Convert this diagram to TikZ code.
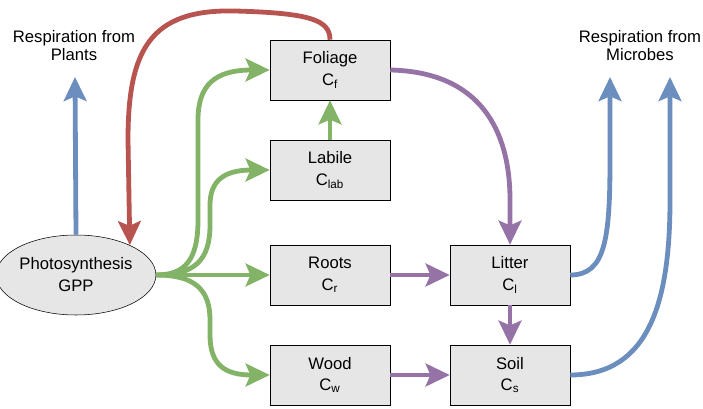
\documentclass[tikz,border=0pt]{standalone}
\usepackage{fontspec}
\setmainfont{Liberation Sans}
\usetikzlibrary{arrows.meta,shapes.geometric}
\tikzset{>={Stealth[inset=3.5pt,length=18pt,width=17pt]}}
\definecolor{resblue}{HTML}{6C8EBF}
\definecolor{allocgreen}{HTML}{82B366}
\definecolor{fallred}{HTML}{B85450}
\definecolor{decpurple}{HTML}{9673A6}
\definecolor{poolgray}{HTML}{E6E6E6}
\tikzset{
  pool/.style={draw, fill=poolgray, minimum width=90pt, minimum height=45pt,
    inner sep=0pt, align=center, font=\fontsize{12.5}{16}\selectfont},
  flux/.style={->, line width=3.6pt},
  lbl/.style={align=center, font=\fontsize{12.5}{13.5}\selectfont}
}
\begin{document}
\begin{tikzpicture}[x=0.75pt, y=-0.75pt]

  \useasboundingbox (0,0) rectangle (703,409);

  %% pools
  \node[pool] (fol) at (330,70) {Foliage\\C\textsubscript{f}};
  \node[pool] (lab) at (330,170) {Labile\\C\textsubscript{lab}};
  \node[pool] (roo) at (330,275) {Roots\\C\textsubscript{r}};
  \node[pool] (woo) at (330,375) {Wood\\C\textsubscript{w}};
  \node[pool] (lit) at (510,275) {Litter\\C\textsubscript{l}};
  \node[pool] (soi) at (510,375) {Soil\\C\textsubscript{s}};

  \node[ellipse, draw, fill=poolgray, minimum width=112.5pt, minimum height=60pt,
    inner sep=0pt, align=center, font=\fontsize{12.5}{16.5}\selectfont]
    (gpp) at (76,275) {Photosynthesis\\GPP};

  \node[lbl] (rplant) at (74,46) {Respiration from\\Plants};
  \node[lbl] (rmicro) at (640,46) {Respiration from\\Microbes};

  \coordinate (rp) at (75,77);
  \coordinate (rl) at (610,77);
  \coordinate (rs) at (670,77);

  %% respiration
  \draw[flux, resblue] (gpp.north) -- (rp);
  \draw[flux, resblue] (lit.east) .. controls (605,275) and (610,240) .. (610,160) -- (rl);
  \draw[flux, resblue] (soi.east) .. controls (650,375) and (670,300) .. (670,200) -- (rs);

  %% foliage -> gpp
  \draw[flux, fallred] (fol.north) .. controls (330,20) and (310,13) .. (235,11)
    .. controls (150,9) and (128,50) .. (128,140) -- (gpp.29);

  %% gpp -> pools
  \draw[flux, allocgreen] (gpp.east) .. controls (185,275) and (198,260) .. (198,220)
    -- (198,120) .. controls (198,85) and (215,70) .. (fol.west);
  \draw[flux, allocgreen] (gpp.east) .. controls (195,275) and (210,260) .. (210,225)
    -- (210,205) .. controls (210,180) and (225,170) .. (lab.west);
  \draw[flux, allocgreen] (gpp.east) -- (roo.west);
  \draw[flux, allocgreen] (gpp.east) .. controls (195,275) and (210,290) .. (210,320)
    -- (210,335) .. controls (210,365) and (225,375) .. (woo.west);
  \draw[flux, allocgreen] (lab.north) -- (fol.south); %% labile -> foliage

  %% litterfall and decomposition
  \draw[flux, decpurple] (fol.east) .. controls (480,72) and (510,130) .. (510,200) -- (lit.north);
  \draw[flux, decpurple] (roo.east) -- (lit.west);
  \draw[flux, decpurple] (lit.south) -- (soi.north);
  \draw[flux, decpurple] (woo.east) -- (soi.west);

\end{tikzpicture}
\end{document}
